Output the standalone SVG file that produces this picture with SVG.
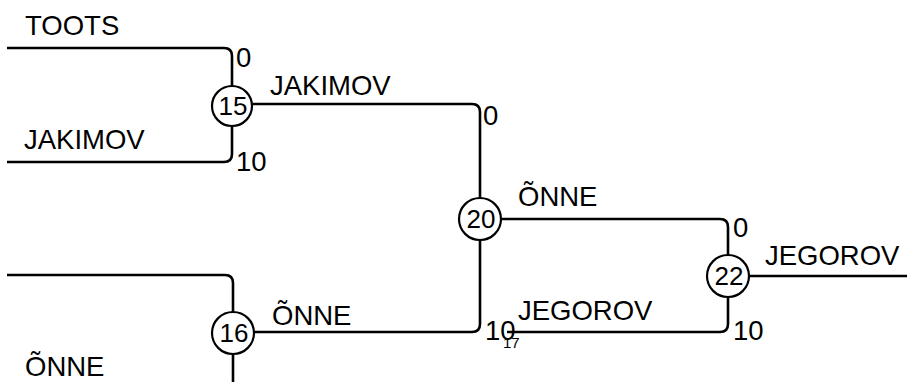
<svg xmlns="http://www.w3.org/2000/svg" width="907" height="382" viewBox="0 0 907 382">
<style>
.w{fill:none;stroke:#000;stroke-width:2.6}
.n{fill:#fff;stroke:#000;stroke-width:2.2}
text{font-family:"Liberation Sans",Arial,sans-serif;font-size:27.5px;fill:#000}
.c{text-anchor:middle;font-size:26px}
.s{font-size:15px}
</style>
<rect width="907" height="382" fill="#fff"/>
<g id="connectors">
<path class="w" d="M7,48 H224 Q232,48 232,56 V86"/>
<path class="w" d="M7,162 H224 Q232,162 232,154 V127"/>
<path class="w" d="M253,104 H472 Q480,104 480,112 V198"/>
<path class="w" d="M7,275 H225 Q233,275 233,283 V312"/>
<path class="w" d="M233,355 V382"/>
<path class="w" d="M254,332 H472 Q480,332 480,324 V240"/>
<path class="w" d="M501,219 H720 Q728,219 728,227 V255"/>
<path class="w" d="M507,332 H720 Q728,332 728,324 V297"/>
<path class="w" d="M749,276 H907"/>
</g>
<g id="labels">
<text x="25" y="35">TOOTS</text>
<text x="24" y="149">JAKIMOV</text>
<text x="25" y="376">ÕNNE</text>
<text x="236" y="67">0</text>
<text x="236" y="171">10</text>
<text x="270" y="95">JAKIMOV</text>
<text x="272" y="325">ÕNNE</text>
<text x="483" y="125">0</text>
<text x="485" y="340">10</text>
<text class="s" x="503" y="348">17</text>
<text x="518" y="206">ÕNNE</text>
<text x="518" y="320">JEGOROV</text>
<text x="733" y="237">0</text>
<text x="733" y="340">10</text>
<text x="765" y="265">JEGOROV</text>
</g>
<g id="node15"><circle class="n" cx="232" cy="106" r="20"/><text class="c" x="233" y="115">15</text></g>
<g id="node16"><circle class="n" cx="233" cy="333" r="21"/><text class="c" x="234" y="342">16</text></g>
<g id="node20"><circle class="n" cx="480" cy="219" r="21"/><text class="c" x="481" y="228">20</text></g>
<g id="node22"><circle class="n" cx="728" cy="276" r="21"/><text class="c" x="729" y="285">22</text></g>
</svg>
